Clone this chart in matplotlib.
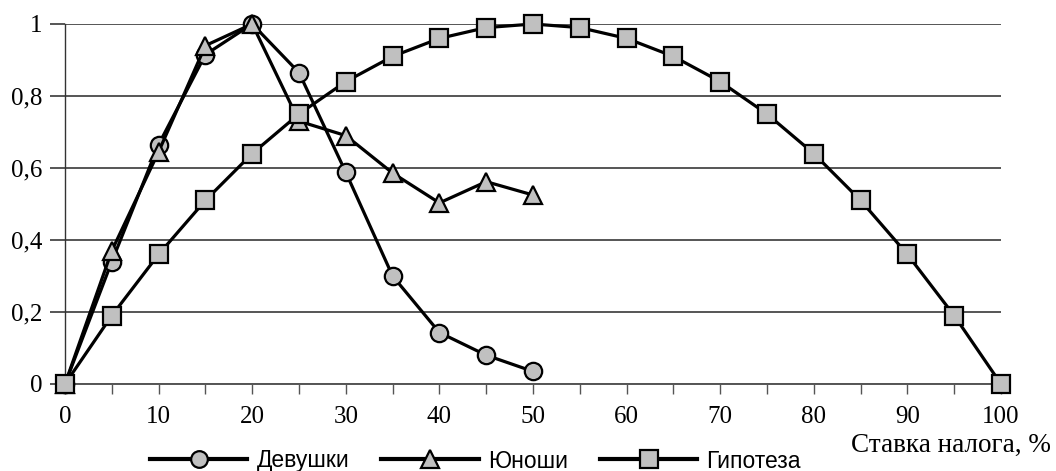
import numpy as np
import matplotlib.pyplot as plt
from matplotlib.ticker import MultipleLocator, FuncFormatter
from matplotlib.lines import Line2D

# ставка налога, %
rate_girls = [0, 5, 10, 15, 20, 25, 30, 35, 40, 45, 50]
girls = [0.0, 0.34, 0.665, 0.915, 1.0, 0.865, 0.588, 0.30, 0.143, 0.08, 0.035]

rate_boys = [0, 5, 10, 15, 20, 25, 30, 35, 40, 45, 50]
boys = [0.0, 0.37, 0.645, 0.94, 1.0, 0.73, 0.69, 0.586, 0.503, 0.562, 0.525]

rate_hyp = [0, 5, 10, 15, 20, 25, 30, 35, 40, 45, 50,
            55, 60, 65, 70, 75, 80, 85, 90, 95, 100]
hyp = [0.0, 0.19, 0.36, 0.51, 0.64, 0.75, 0.84, 0.91, 0.96, 0.99, 1.0,
       0.99, 0.96, 0.91, 0.84, 0.75, 0.64, 0.51, 0.36, 0.19, 0.0]

labels = ['Девушки', 'Юноши', 'Гипотеза']

grid_c = '#555555'
fill_c = '#c0c0c0'

fig = plt.figure(figsize=(10.56, 4.71), dpi=100)
ax = fig.add_axes([65/1056, 87/471, 936/1056, 360/471])

style = dict(color='black', lw=2.3, markerfacecolor=fill_c,
             markeredgecolor='black', markeredgewidth=1.6)
ax.plot(rate_girls, girls, marker='o', ms=12.5, zorder=3, clip_on=False, **style)
ax.plot(rate_boys, boys, marker='^', ms=13, zorder=4, clip_on=False, **style)
ax.plot(rate_hyp, hyp, marker='s', ms=13, zorder=5, clip_on=False, **style)

ax.set_xlim(0, 100)
ax.set_ylim(0, 1)

def comma_fmt(v, pos):
    if abs(v) < 1e-9:
        return '0'
    if abs(v - 1) < 1e-9:
        return '1'
    return f'{v:.1f}'.replace('.', ',')

ax.yaxis.set_major_locator(MultipleLocator(0.2))
ax.yaxis.set_major_formatter(FuncFormatter(comma_fmt))
ax.xaxis.set_major_locator(MultipleLocator(10))
ax.xaxis.set_minor_locator(MultipleLocator(5))

ax.grid(axis='y', color=grid_c, lw=1.4, zorder=1)
for s in ['top', 'right']:
    ax.spines[s].set_visible(False)
ax.spines['left'].set_color('#333333')
ax.spines['left'].set_linewidth(1.0)
ax.spines['bottom'].set_color(grid_c)
ax.spines['bottom'].set_linewidth(1.4)

serif = 'Liberation Serif'
ax.tick_params(axis='y', length=11, width=1.4, color=grid_c, pad=5,
               labelsize=18, labelfontfamily=serif)
ax.tick_params(axis='x', which='both', length=7.5, width=1.0, color=grid_c,
               labelsize=18, labelfontfamily=serif, pad=8)
ax.tick_params(axis='x', which='minor', labelbottom=False)

fig.text(1051/1056, 1 - 445/471, 'Ставка налога, %', ha='right', va='center',
         family=serif, fontsize=19.5)

handles = [Line2D([], [], marker=m, ms=sz, **style)
           for m, sz in [('o', 12), ('^', 12.5), ('s', 12.5)]]
for h in handles:
    h.set_linewidth(3)
fig.legend(handles, labels, ncol=3, loc='center left',
           bbox_to_anchor=(150/1056, 1 - 461/471), frameon=False,
           prop={'family': 'Liberation Sans', 'size': 16.5},
           handlelength=4.25, handletextpad=0.4, columnspacing=1.4,
           borderaxespad=0, borderpad=0)

fig.savefig('out.png', dpi=100)
